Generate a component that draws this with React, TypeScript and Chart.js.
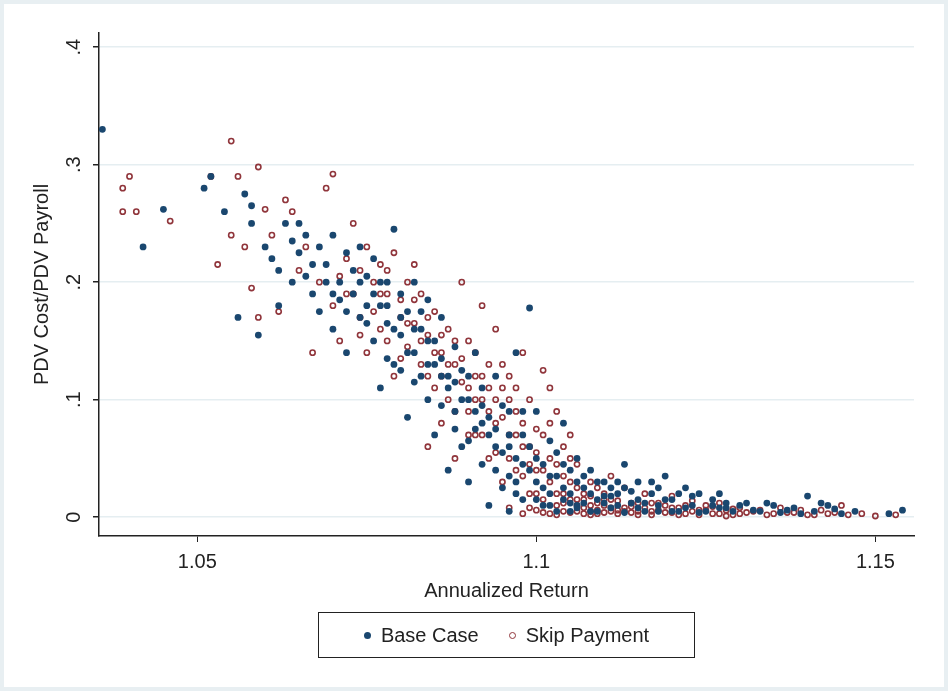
import React, { useEffect, useRef } from 'react';
import { Chart, registerables } from 'chart.js';

Chart.register(...registerables);

const BASE_X = [1.036, 1.042, 1.045, 1.051, 1.052, 1.054, 1.056, 1.057, 1.058, 1.058, 1.059, 1.060, 1.061, 1.062, 1.063, 1.064, 1.065, 1.066, 1.067, 1.068,
  1.069, 1.070, 1.070, 1.071, 1.072, 1.072, 1.073, 1.074, 1.074, 1.075, 1.076, 1.076, 1.077, 1.077, 1.078, 1.078, 1.079, 1.079, 1.080, 1.080,
  1.081, 1.081, 1.082, 1.082, 1.083, 1.083, 1.084, 1.084, 1.085, 1.085, 1.086, 1.086, 1.087, 1.087, 1.088, 1.088, 1.089, 1.089, 1.090, 1.090,
  1.091, 1.091, 1.092, 1.092, 1.093, 1.093, 1.094, 1.094, 1.095, 1.095, 1.096, 1.096, 1.097, 1.097, 1.098, 1.098, 1.099, 1.099, 1.100, 1.100,
  1.101, 1.101, 1.102, 1.102, 1.103, 1.103, 1.104, 1.104, 1.105, 1.106, 1.107, 1.108, 1.108, 1.109, 1.110, 1.111, 1.112, 1.113, 1.114, 1.115,
  1.116, 1.117, 1.118, 1.119, 1.120, 1.121, 1.122, 1.123, 1.124, 1.125, 1.126, 1.127, 1.128, 1.129, 1.130, 1.132, 1.134, 1.136, 1.138, 1.140,
  1.141, 1.143, 1.145, 1.152, 1.154,
  1.062, 1.064, 1.066, 1.068, 1.071, 1.073, 1.075, 1.077, 1.079, 1.081, 1.083, 1.085, 1.087, 1.089, 1.091, 1.093, 1.095, 1.097, 1.099, 1.105,
  1.106, 1.110, 1.112, 1.115, 1.118, 1.120, 1.105, 1.107];
const BASE_Y = [0.33, 0.23, 0.262, 0.28, 0.29, 0.26, 0.17, 0.275, 0.265, 0.25, 0.155, 0.23, 0.22, 0.18, 0.25, 0.2, 0.25, 0.24, 0.19, 0.23,
  0.215, 0.16, 0.24, 0.2, 0.225, 0.14, 0.19, 0.23, 0.17, 0.205, 0.15, 0.22, 0.18, 0.11, 0.2, 0.165, 0.245, 0.13, 0.19, 0.155,
  0.175, 0.085, 0.2, 0.14, 0.16, 0.12, 0.185, 0.1, 0.15, 0.07, 0.135, 0.17, 0.11, 0.04, 0.145, 0.09, 0.125, 0.06, 0.1, 0.03,
  0.14, 0.075, 0.11, 0.045, 0.085, 0.01, 0.12, 0.06, 0.095, 0.025, 0.07, 0.005, 0.14, 0.05, 0.09, 0.015, 0.178, 0.06, 0.03, 0.09,
  0.01, 0.045, 0.065, 0.02, 0.005, 0.035, 0.08, 0.015, 0.04, 0.01, 0.025, 0.005, 0.04, 0.015, 0.03, 0.008, 0.02, 0.045, 0.012, 0.03,
  0.005, 0.02, 0.01, 0.035, 0.015, 0.005, 0.025, 0.01, 0.02, 0.005, 0.015, 0.008, 0.012, 0.005, 0.01, 0.006, 0.012, 0.004, 0.008, 0.018,
  0.005, 0.01, 0.003, 0.003, 0.006,
  0.21, 0.235, 0.205, 0.175, 0.185, 0.21, 0.18, 0.2, 0.16, 0.14, 0.175, 0.13, 0.12, 0.1, 0.09, 0.07, 0.055, 0.03, 0.04, 0.02,
  0.05, 0.012, 0.03, 0.015, 0.025, 0.005, 0.005, 0.012];

const BASE_BAND_X = [1.065, 1.067, 1.069, 1.070, 1.072, 1.074, 1.075, 1.076, 1.078, 1.078, 1.080, 1.080, 1.082, 1.082, 1.084, 1.084, 1.086, 1.086, 1.088, 1.088,
  1.090, 1.090, 1.092, 1.092, 1.094, 1.094, 1.096, 1.096, 1.098, 1.098, 1.100, 1.100, 1.102, 1.102, 1.104, 1.104, 1.106, 1.106, 1.108, 1.109,
  1.110, 1.111, 1.112, 1.113, 1.114, 1.116, 1.117, 1.118, 1.119, 1.121, 1.122, 1.123, 1.124, 1.126, 1.127, 1.128, 1.131, 1.133, 1.135, 1.137,
  1.139, 1.142, 1.144, 1.147, 1.096, 1.097, 1.101, 1.103, 1.105, 1.107, 1.109, 1.111, 1.113, 1.115];
const BASE_BAND_Y = [0.225, 0.215, 0.2, 0.19, 0.175, 0.2, 0.165, 0.19, 0.18, 0.135, 0.17, 0.125, 0.16, 0.115, 0.15, 0.13, 0.12, 0.095, 0.115, 0.075,
  0.12, 0.065, 0.08, 0.095, 0.075, 0.04, 0.06, 0.09, 0.045, 0.07, 0.05, 0.015, 0.035, 0.01, 0.025, 0.045, 0.03, 0.008, 0.02, 0.005,
  0.018, 0.025, 0.01, 0.004, 0.022, 0.012, 0.03, 0.005, 0.015, 0.02, 0.008, 0.018, 0.004, 0.01, 0.02, 0.008, 0.012, 0.005, 0.01, 0.006,
  0.003, 0.012, 0.007, 0.005, 0.035, 0.02, 0.025, 0.055, 0.012, 0.035, 0.03, 0.018, 0.025, 0.008];

const SKIP_X = [1.039, 1.039, 1.040, 1.041, 1.046, 1.052, 1.053, 1.055, 1.055, 1.056, 1.057, 1.058, 1.059, 1.059, 1.060, 1.061, 1.062, 1.063, 1.064, 1.065,
  1.066, 1.067, 1.068, 1.069, 1.070, 1.070, 1.071, 1.072, 1.073, 1.073, 1.074, 1.075, 1.075, 1.076, 1.077, 1.077, 1.078, 1.079, 1.079, 1.080,
  1.081, 1.081, 1.082, 1.082, 1.083, 1.083, 1.084, 1.084, 1.085, 1.085, 1.086, 1.086, 1.087, 1.087, 1.088, 1.088, 1.089, 1.089, 1.090, 1.090,
  1.091, 1.091, 1.092, 1.092, 1.093, 1.093, 1.094, 1.094, 1.095, 1.095, 1.096, 1.096, 1.097, 1.097, 1.098, 1.098, 1.099, 1.099, 1.100, 1.100,
  1.101, 1.101, 1.102, 1.102, 1.103, 1.103, 1.104, 1.104, 1.105, 1.105, 1.106, 1.106, 1.107, 1.108, 1.108, 1.109, 1.110, 1.110, 1.111, 1.112,
  1.113, 1.114, 1.115, 1.116, 1.117, 1.118, 1.119, 1.120, 1.121, 1.122, 1.123, 1.124, 1.125, 1.126, 1.127, 1.128, 1.129, 1.130, 1.131, 1.133,
  1.135, 1.136, 1.138, 1.140, 1.142, 1.143, 1.145, 1.146, 1.150, 1.153, 1.096, 1.098, 1.100, 1.102, 1.104, 1.107, 1.109, 1.111, 1.113];
const SKIP_Y = [0.28, 0.26, 0.29, 0.26, 0.252, 0.29, 0.215, 0.32, 0.24, 0.29, 0.23, 0.195, 0.298, 0.17, 0.262, 0.24, 0.175, 0.27, 0.26, 0.21,
  0.23, 0.14, 0.2, 0.28, 0.292, 0.18, 0.15, 0.22, 0.25, 0.19, 0.17, 0.23, 0.14, 0.2, 0.215, 0.16, 0.19, 0.225, 0.12, 0.17,
  0.2, 0.145, 0.215, 0.165, 0.13, 0.19, 0.155, 0.06, 0.175, 0.11, 0.14, 0.08, 0.16, 0.1, 0.13, 0.05, 0.2, 0.115, 0.09, 0.15,
  0.07, 0.12, 0.18, 0.1, 0.05, 0.13, 0.08, 0.16, 0.11, 0.03, 0.07, 0.12, 0.09, 0.04, 0.06, 0.14, 0.1, 0.02, 0.075, 0.04,
  0.125, 0.015, 0.11, 0.05, 0.09, 0.02, 0.06, 0.005, 0.07, 0.03, 0.01, 0.045, 0.02, 0.005, 0.03, 0.012, 0.02, 0.004, 0.015, 0.006,
  0.025, 0.004, 0.012, 0.02, 0.005, 0.012, 0.004, 0.018, 0.008, 0.003, 0.014, 0.006, 0.01, 0.003, 0.012, 0.006, 0.002, 0.008, 0.004, 0.006,
  0.003, 0.008, 0.004, 0.002, 0.006, 0.003, 0.01, 0.002, 0.001, 0.002, 0.008, 0.003, 0.006, 0.003, 0.012, 0.003, 0.025, 0.035, 0.008];

const SKIP_BAND_X = [1.071, 1.072, 1.074, 1.074, 1.076, 1.077, 1.078, 1.078, 1.080, 1.080, 1.081, 1.082, 1.083, 1.084, 1.084, 1.085, 1.086, 1.086, 1.087, 1.088,
  1.088, 1.089, 1.090, 1.090, 1.091, 1.091, 1.092, 1.092, 1.093, 1.093, 1.094, 1.094, 1.095, 1.095, 1.096, 1.096, 1.097, 1.097, 1.098, 1.098,
  1.099, 1.099, 1.100, 1.100, 1.101, 1.101, 1.102, 1.102, 1.103, 1.103, 1.104, 1.104, 1.105, 1.105, 1.106, 1.106, 1.107, 1.107, 1.108, 1.108,
  1.109, 1.109, 1.110, 1.110, 1.111, 1.111, 1.112, 1.112, 1.113, 1.114, 1.114, 1.115, 1.115, 1.116, 1.117, 1.117, 1.118, 1.119, 1.120, 1.120,
  1.121, 1.122, 1.123, 1.124, 1.125, 1.126, 1.127, 1.128, 1.129, 1.130, 1.132, 1.134, 1.137, 1.139, 1.141, 1.144, 1.148, 1.099, 1.101, 1.103,
  1.105, 1.106, 1.108];
const SKIP_BAND_Y = [0.205, 0.19, 0.21, 0.155, 0.175, 0.19, 0.21, 0.15, 0.185, 0.135, 0.165, 0.185, 0.15, 0.17, 0.12, 0.14, 0.155, 0.12, 0.13, 0.15,
  0.09, 0.135, 0.11, 0.07, 0.1, 0.14, 0.12, 0.07, 0.11, 0.09, 0.1, 0.055, 0.085, 0.13, 0.1, 0.05, 0.07, 0.11, 0.08, 0.035,
  0.06, 0.045, 0.055, 0.02, 0.04, 0.07, 0.03, 0.08, 0.045, 0.01, 0.035, 0.02, 0.015, 0.05, 0.025, 0.005, 0.015, 0.008, 0.018, 0.01,
  0.006, 0.003, 0.01, 0.015, 0.005, 0.008, 0.014, 0.003, 0.005, 0.012, 0.009, 0.005, 0.002, 0.008, 0.012, 0.002, 0.006, 0.01, 0.004, 0.008,
  0.002, 0.01, 0.005, 0.002, 0.006, 0.009, 0.003, 0.001, 0.007, 0.003, 0.005, 0.002, 0.004, 0.006, 0.002, 0.004, 0.003, 0.008, 0.004, 0.002,
  0.004, 0.015, 0.002];

const X_TICKS = [1.05, 1.1, 1.15];
const Y_TICKS = [0, 0.1, 0.2, 0.3, 0.4];
const Y_LABELS = ['0', '.1', '.2', '.3', '.4'];

const FONT = '"Liberation Sans Narrow", "Liberation Sans", Arial, sans-serif';
const BLUE = '#1a476f';
const RED = '#90353b';

const pts = (xs: number[], ys: number[]) => xs.map((x, i) => ({ x, y: ys[i] }));

const textPlugin = {
  id: 'stataText',
  afterDraw(chart: Chart) {
    const { ctx, chartArea, scales } = chart;
    const y = scales.y;
    ctx.save();
    ctx.fillStyle = '#222';
    ctx.font = `20px ${FONT}`;
    ctx.textAlign = 'center';
    ctx.textBaseline = 'middle';
    Y_TICKS.forEach((t, i) => {
      ctx.save();
      ctx.translate(70, y.getPixelForValue(t));
      ctx.rotate(-Math.PI / 2);
      ctx.fillText(Y_LABELS[i], 0, 0);
      ctx.restore();
    });
    ctx.save();
    ctx.translate(38, (chartArea.top + chartArea.bottom) / 2);
    ctx.rotate(-Math.PI / 2);
    ctx.fillText('PDV Cost/PDV Payroll', 0, 0);
    ctx.restore();
    ctx.fillText('Annualized Return', (chartArea.left + chartArea.right) / 2, 587);
    ctx.restore();
  },
};

const App: React.FC = () => {
  const canvasRef = useRef<HTMLCanvasElement>(null);
  const chartRef = useRef<Chart | null>(null);

  useEffect(() => {
    document.body.style.margin = '0';
    if (!canvasRef.current) return;
    chartRef.current?.destroy();
    const ctx = canvasRef.current.getContext('2d');
    if (!ctx) return;

    chartRef.current = new Chart(ctx, {
      type: 'scatter',
      data: {
        datasets: [
          {
            label: 'Base Case',
            data: [...pts(BASE_X, BASE_Y), ...pts(BASE_BAND_X, BASE_BAND_Y)],
            backgroundColor: BLUE,
            borderColor: BLUE,
            pointRadius: 3.4,
            borderWidth: 0,
          },
          {
            label: 'Skip Payment',
            data: [...pts(SKIP_X, SKIP_Y), ...pts(SKIP_BAND_X, SKIP_BAND_Y)],
            backgroundColor: 'rgba(0,0,0,0)',
            borderColor: RED,
            pointRadius: 2.6,
            borderWidth: 1.6,
          },
        ],
      },
      options: {
        animation: false,
        responsive: false,
        layout: { padding: { top: 29, right: 30, left: 0, bottom: 0 } },
        plugins: { legend: { display: false }, tooltip: { enabled: false } },
        scales: {
          x: {
            type: 'linear',
            min: 1.0355,
            max: 1.1557,
            afterBuildTicks: (s: any) => { s.ticks = X_TICKS.map(v => ({ value: v })); },
            afterFit: (s: any) => { s.height = 151; },
            ticks: { color: '#222', font: { size: 20, family: FONT }, padding: 8, callback: (v: any) => String(v) },
            grid: { drawOnChartArea: false, tickLength: 6, tickColor: '#222' },
            border: { color: '#222', width: 1.5 },
          },
          y: {
            type: 'linear',
            min: -0.016,
            max: 0.412,
            afterBuildTicks: (s: any) => { s.ticks = Y_TICKS.map(v => ({ value: v })); },
            afterFit: (s: any) => { s.width = 95; },
            ticks: { display: false },
            grid: { color: '#e5eef1', tickLength: 6, tickColor: '#222', lineWidth: 1.5 },
            border: { color: '#222', width: 1.5 },
          },
        },
      },
      plugins: [textPlugin],
    });

    return () => {
      chartRef.current?.destroy();
      chartRef.current = null;
    };
  }, []);

  return (
    <div style={{ position: 'relative', width: 948, height: 691, background: '#fff', boxSizing: 'border-box', border: '4px solid #e8eff2' }}>
      <canvas ref={canvasRef} width={940} height={683} style={{ position: 'absolute', left: 0, top: 0 }} />
      <div
        style={{
          position: 'absolute', left: 314, top: 608, width: 377, height: 46, border: '1.5px solid #222',
          display: 'flex', alignItems: 'center', justifyContent: 'center', gap: 30,
          fontFamily: FONT, fontSize: 20, color: '#222', boxSizing: 'border-box',
        }}
      >
        <span style={{ display: 'flex', alignItems: 'center', gap: 10 }}>
          <span style={{ width: 7, height: 7, borderRadius: '50%', background: BLUE, display: 'inline-block' }} />
          Base Case
        </span>
        <span style={{ display: 'flex', alignItems: 'center', gap: 10 }}>
          <span style={{ width: 5, height: 5, borderRadius: '50%', border: `1.5px solid ${RED}`, display: 'inline-block' }} />
          Skip Payment
        </span>
      </div>
    </div>
  );
};

export default App;
